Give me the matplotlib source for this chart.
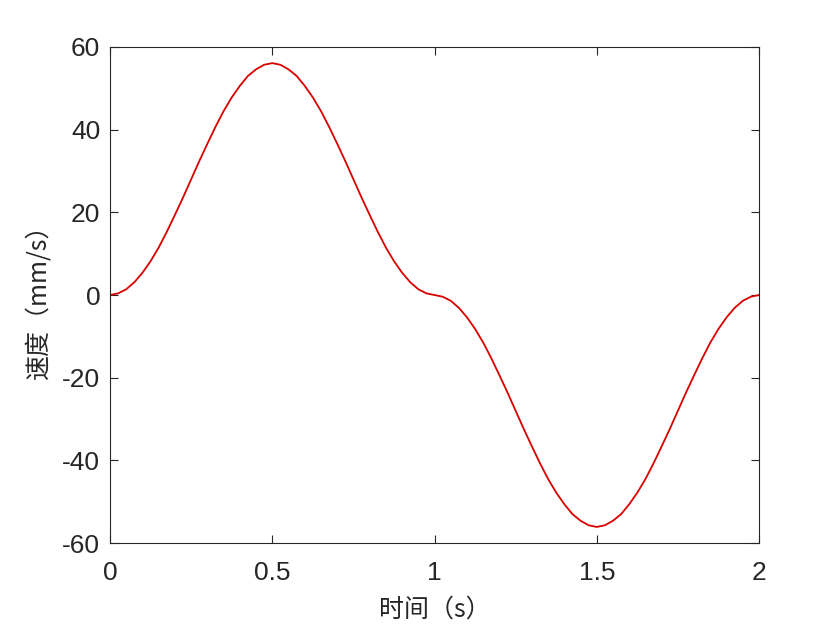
import numpy as np
import matplotlib
matplotlib.use('Agg')
import matplotlib.pyplot as plt

plt.rcParams['font.family'] = ['Liberation Sans', 'Noto Sans CJK SC', 'DejaVu Sans']
plt.rcParams['axes.unicode_minus'] = False

# time (s), step 0.025
t = np.arange(81) * 0.025
# velocity (mm/s)
up = [0, 0.4, 1.4, 3.1, 5.4, 8.2, 11.5, 15.3, 19.4, 23.6, 28.0,
      32.4, 36.6, 40.7, 44.5, 47.8, 50.6, 53.0, 54.6, 55.7, 56.1,
      55.7, 54.6, 53.0, 50.6, 47.8, 44.5, 40.7, 36.6, 32.4, 28.0,
      23.6, 19.4, 15.3, 11.5, 8.2, 5.4, 3.1, 1.4, 0.4]
down = [0, -0.4, -1.4, -3.1, -5.4, -8.2, -11.5, -15.3, -19.4, -23.6, -28.0,
        -32.4, -36.6, -40.7, -44.5, -47.8, -50.6, -53.0, -54.6, -55.7, -56.1,
        -55.7, -54.6, -53.0, -50.6, -47.8, -44.5, -40.7, -36.6, -32.4, -28.0,
        -23.6, -19.4, -15.3, -11.5, -8.2, -5.4, -3.1, -1.4, -0.4, 0]
v = up + down

xticks = [0, 0.5, 1, 1.5, 2]
xticklabels = ['0', '0.5', '1', '1.5', '2']
yticks = [-60, -40, -20, 0, 20, 40, 60]

fig = plt.figure(figsize=(8.4, 6.3), dpi=100)
ax = fig.add_axes([0.131, 0.138, 0.7726, 0.7874])
ax.plot(t, v, color='#d90000', lw=1.3)
ax.set_xlim(0, 2)
ax.set_ylim(-60, 60)
ax.set_xticks(xticks)
ax.set_xticklabels(xticklabels)
ax.set_yticks(yticks)
ax.tick_params(direction='in', length=6, width=0.8, colors='#262626',
               labelsize=19, top=True, right=True)
ax.tick_params(axis='x', pad=13)
ax.tick_params(axis='y', pad=7)
for s in ax.spines.values():
    s.set_color('#262626')
    s.set_linewidth(0.8)
cjk = ['Noto Sans CJK SC', 'DejaVu Sans']
ax.set_xlabel('时间（s）', fontsize=18, color='#262626', labelpad=8, family=cjk)
ax.set_ylabel('速度（mm/s）', fontsize=18, color='#262626', labelpad=8, family=cjk)

fig.savefig('out.png', dpi=100)
